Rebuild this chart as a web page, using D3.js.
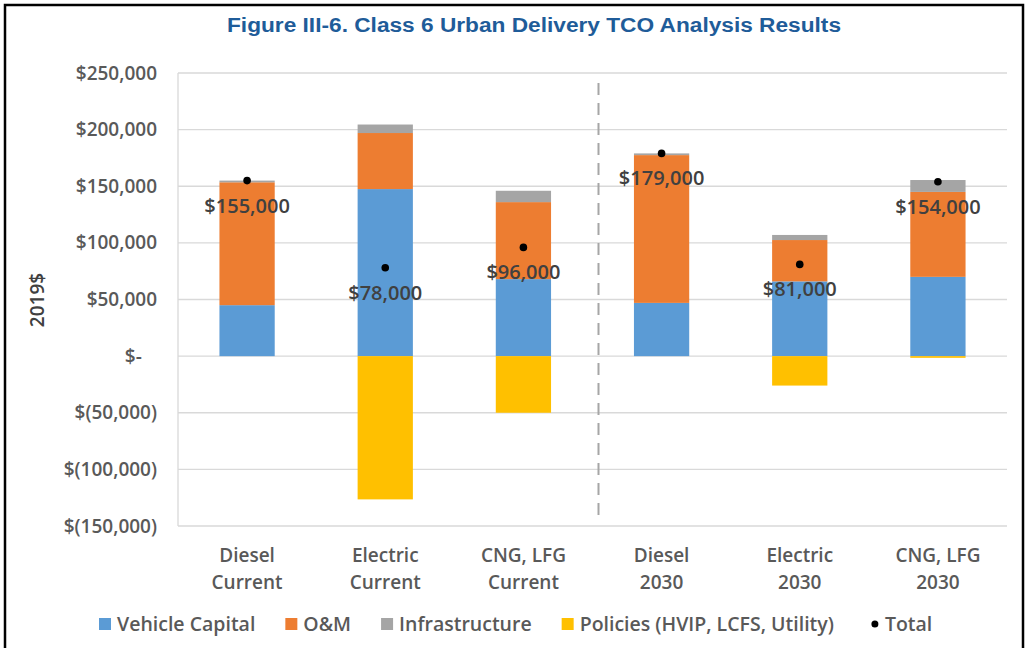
<!DOCTYPE html>
<html>
<head>
<meta charset="utf-8">
<script src="https://cdn.jsdelivr.net/npm/d3@7"></script>
<style>
	body { margin: 0; background: #fff; }
	svg text { font-family: "Open Sans", sans-serif; }
</style>
</head>
<body>
<div id="chart"></div>
<script>

// categories (two label lines each)
var cats = [
	["Diesel", "Current"],
	["Electric", "Current"],
	["CNG, LFG", "Current"],
	["Diesel", "2030"],
	["Electric", "2030"],
	["CNG, LFG", "2030"]
];

// series values, 2019$
var vehicleCapital = [45000, 147500, 68000, 47000, 66000, 70000];
var om             = [108500, 49500, 68000, 130500, 36500, 75000];
var infrastructure = [1500, 7500, 10000, 1500, 4500, 10500];
var policies       = [0, -126500, -50000, 0, -26000, -1500];
var totals         = [155000, 78000, 96000, 179000, 81000, 154000];

var yTicks = [250000, 200000, 150000, 100000, 50000, 0, -50000, -100000, -150000];

var series = [
	{ key: "vc",   name: "Vehicle Capital", vals: vehicleCapital, color: "#5B9BD5" },
	{ key: "om",   name: "O&M", vals: om, color: "#ED7D31" },
	{ key: "inf",  name: "Infrastructure", vals: infrastructure, color: "#A5A5A5" },
	{ key: "pol",  name: "Policies (HVIP, LCFS, Utility)", vals: policies, color: "#FFC000" }
];

var W = 1027, H = 648;
var margin = { top: 73, right: 20, bottom: 122, left: 178 };

var svg = d3.select("#chart").append("svg")
	.attr("width", W)
	.attr("height", H);

// frame
svg.append("rect")
	.attr("x", 5).attr("y", 5)
	.attr("width", 1018).attr("height", 670)
	.attr("fill", "none")
	.attr("stroke", "#000")
	.attr("stroke-width", 2.5);

// title
svg.append("text")
	.attr("x", 534).attr("y", 25)
	.attr("dy", "0.35em")
	.attr("text-anchor", "middle")
	.attr("textLength", 614)
	.attr("lengthAdjust", "spacingAndGlyphs")
	.style("font-family", "'Liberation Sans', Arial, sans-serif")
	.style("font-weight", "bold")
	.style("font-size", "20px")
	.attr("fill", "#1F5C99")
	.text("Figure III-6. Class 6 Urban Delivery TCO Analysis Results");

var idx = d3.range(cats.length);

var x = d3.scaleBand()
	.domain(idx)
	.range([margin.left, 1007])
	.paddingInner(0.6)
	.paddingOuter(0.3);

var y = d3.scaleLinear()
	.domain([-150000, 250000])
	.range([526, margin.top]);

// gridlines
svg.append("g")
	.selectAll("line")
	.data(yTicks)
	.join("line")
	.attr("x1", margin.left).attr("x2", 1007)
	.attr("y1", d => y(d)).attr("y2", d => y(d))
	.attr("stroke", "#D9D9D9")
	.attr("stroke-width", 1.3);

// y axis line
svg.append("line")
	.attr("x1", margin.left).attr("x2", margin.left)
	.attr("y1", y(250000)).attr("y2", y(-150000))
	.attr("stroke", "#D9D9D9")
	.attr("stroke-width", 1.3);

function money(d)	{
	if(d === 0) return "$-";
	var s = d3.format(",")(Math.abs(d));
	return d < 0 ? "$(" + s + ")" : "$" + s;
}

// y tick labels
var yax = svg.append("g")
	.attr("transform", `translate(${margin.left},0)`)
	.call(d3.axisLeft(y).tickValues(yTicks).tickSize(0).tickPadding(21).tickFormat(money));
yax.select(".domain").remove();
yax.selectAll("text")
	.style("font-family", "'Open Sans', sans-serif")
	.style("font-size", "19px")
	.style("font-weight", 600)
	.attr("fill", "#595959");
// "$-" sits a little left of the right edge in the original
yax.selectAll("text").filter(d => d === 0).attr("dx", "-0.8em");

// y title
svg.append("text")
	.attr("transform", "translate(37,300) rotate(-90)")
	.attr("dy", "0.35em")
	.attr("text-anchor", "middle")
	.style("font-size", "19px")
	.style("font-weight", 600)
	.attr("fill", "#404040")
	.text("2019$");

// stacked bars
var table = idx.map(i => {
	var o = { i: i };
	series.forEach(s => o[s.key] = s.vals[i]);
	return o;
});

var stack = d3.stack()
	.keys(series.map(s => s.key))
	.offset(d3.stackOffsetDiverging);

var layers = stack(table);

svg.append("g")
	.selectAll("g")
	.data(layers)
	.join("g")
	.attr("fill", (d, k) => series[k].color)
	.selectAll("rect")
	.data(d => d)
	.join("rect")
	.attr("x", d => x(d.data.i))
	.attr("width", x.bandwidth())
	.attr("y", d => y(Math.max(d[0], d[1])))
	.attr("height", d => Math.abs(y(d[0]) - y(d[1])));

// dashed separator between current and 2030
var sepX = x(3) - x.step() * x.paddingInner() / 2 + 6;
svg.append("line")
	.attr("x1", sepX).attr("x2", sepX)
	.attr("y1", 83).attr("y2", 519)
	.attr("stroke", "#A6A6A6")
	.attr("stroke-width", 2)
	.attr("stroke-dasharray", "12,8");

// totals
var cx = i => x(i) + x.bandwidth() / 2;

svg.append("g")
	.selectAll("circle")
	.data(idx)
	.join("circle")
	.attr("cx", cx)
	.attr("cy", i => y(totals[i]))
	.attr("r", 3.8)
	.attr("fill", "#000");

svg.append("g")
	.selectAll("text")
	.data(idx)
	.join("text")
	.attr("x", cx)
	.attr("y", i => y(totals[i]) + 25)
	.attr("dy", "0.35em")
	.attr("text-anchor", "middle")
	.style("font-size", "20px")
	.style("font-weight", 600)
	.attr("fill", "#404040")
	.text(i => d3.format("$,")(totals[i]));

// x labels
var xl = svg.append("g")
	.selectAll("text")
	.data(idx)
	.join("text")
	.attr("x", cx)
	.attr("text-anchor", "middle")
	.style("font-size", "19px")
	.style("font-weight", 600)
	.attr("fill", "#595959");
xl.append("tspan").attr("x", cx).attr("y", 555).attr("dy", "0.35em").text(i => cats[i][0]);
xl.append("tspan").attr("x", cx).attr("y", 582).attr("dy", "0.35em").text(i => cats[i][1]);

// legend
var leg = svg.append("g");
var lx = 99, ly = 624;
series.forEach(s => {
	leg.append("rect")
		.attr("x", lx).attr("y", ly - 6)
		.attr("width", 12).attr("height", 12)
		.attr("fill", s.color);
	var t = leg.append("text")
		.attr("x", lx + 18).attr("y", ly)
		.attr("dy", "0.35em")
		.style("font-size", "19.5px")
		.style("font-weight", 600)
		.attr("fill", "#595959")
		.text(s.name);
	lx += 18 + t.node().getComputedTextLength() + 30;
});
leg.append("circle")
	.attr("cx", lx + 11).attr("cy", ly)
	.attr("r", 3.5)
	.attr("fill", "#000");
leg.append("text")
	.attr("x", lx + 21).attr("y", ly)
	.attr("dy", "0.35em")
	.style("font-size", "19.5px")
	.style("font-weight", 600)
	.attr("fill", "#595959")
	.text("Total");

</script>
</body>
</html>
